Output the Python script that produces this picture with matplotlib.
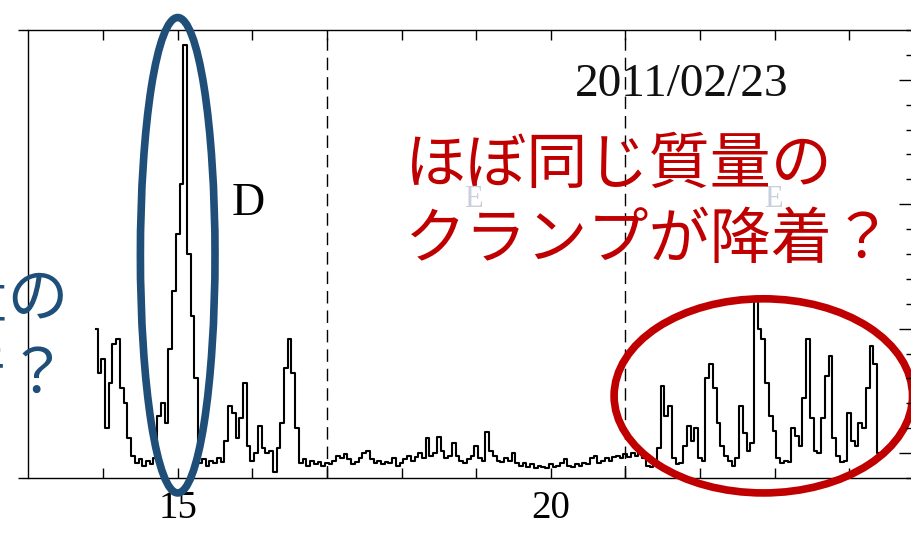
import numpy as np
import matplotlib
matplotlib.use("Agg")
import matplotlib.pyplot as plt
from matplotlib.patches import Ellipse
from matplotlib.ticker import FixedLocator, MultipleLocator, NullFormatter

# --- light curve (2011/02/23), sampled every 0.05 in time ---
t_start, t_step = 13.9, 0.05
flux = [
    6.0, 4.2, 4.8, 2.0, 3.8, 5.4, 5.6, 3.6, 3.0, 1.6,
    0.9, 0.6, 0.75, 0.5, 0.7, 0.55, 0.8, 2.5, 3.0, 2.2,
    5.2, 7.5, 9.8, 11.8, 17.4, 9.0, 6.5, 4.0, 0.6, 0.75,
    0.5, 0.7, 0.6, 0.8, 0.65, 1.5, 2.9, 2.6, 1.6, 2.4,
    3.8, 1.3, 0.7, 1.0, 2.1, 1.2, 1.0, 1.1, 0.25, 1.2,
    2.2, 4.4, 5.6, 4.2, 2.0, 0.6, 0.75, 0.5, 0.7, 0.55,
    0.65, 0.5, 0.6, 0.55, 0.7, 0.9, 0.8, 0.95, 0.75, 0.55,
    0.65, 0.8, 1.0, 1.1, 0.75, 0.6, 0.7, 0.55, 0.65, 0.6,
    0.8, 0.5, 0.6, 0.75, 0.9, 0.7, 0.85, 1.0, 0.8, 1.6,
    0.9, 1.0, 1.65, 1.1, 0.8, 0.9, 1.4, 0.9, 0.7, 0.6,
    0.75, 0.9, 1.3, 0.8, 0.7, 1.85, 1.1, 0.9, 0.7, 0.65,
    0.8, 0.7, 1.0, 0.6, 0.5, 0.6, 0.45, 0.55, 0.4, 0.5,
    0.45, 0.4, 0.55, 0.45, 0.5, 0.6, 0.75, 0.5, 0.45, 0.55,
    0.5, 0.6, 0.55, 0.8, 0.9, 0.6, 0.7, 0.8, 0.7, 0.85,
    0.9, 0.8, 0.95, 0.85, 1.0, 0.9, 1.05, 0.8, 0.5, 0.45,
    0.6, 1.2, 3.7, 2.5, 2.9, 0.8, 0.55, 0.6, 1.3, 2.1,
    1.5, 2.0, 0.8, 0.7, 4.0, 4.6, 3.6, 2.2, 1.3, 0.9,
    0.7, 0.5, 0.8, 2.9, 1.8, 1.1, 1.4, 7.2, 6.0, 5.6,
    3.8, 2.5, 1.9, 0.8, 0.6, 0.7, 0.65, 2.0, 1.7, 1.3,
    3.2, 5.6, 2.4, 1.1, 1.0, 2.4, 4.1, 4.9, 1.6, 0.9,
    0.65, 0.7, 2.6, 1.5, 1.3, 2.2, 2.0, 3.6, 5.3, 4.6,
    1.0,
]
t = t_start + t_step * np.arange(len(flux))

xticks = list(range(14, 25))
xlabels = {15: "15", 20: "20"}
dashed_at = [17, 21]
right_major = [1, 6, 11, 16]

W, H = 912, 541
fig = plt.figure(figsize=(W / 100, H / 100), dpi=100)
# axes run past the right edge of the canvas
ax = fig.add_axes([28.5 / W, 63 / H, 895.2 / W, 448 / H])
ax.set_xlim(13, 25)
ax.set_ylim(0, 18)

ax.plot(t, flux, color="black", lw=1.5, drawstyle="steps-mid", zorder=3)
for xd in dashed_at:
    ax.axvline(xd, color="black", lw=1.0, ls=(0, (9, 5)))

serif = "Liberation Serif"
ax.spines["right"].set_visible(False)
for s in ("left", "top", "bottom"):
    ax.spines[s].set_linewidth(1.0)
ax.set_xticks(xticks)
ax.set_xticklabels([xlabels.get(v, "") for v in xticks], fontfamily=serif, fontsize=28)
ax.tick_params(axis="x", which="both", direction="in", top=True, bottom=True,
               length=7, width=1.0, pad=9)
ax.set_yticks([0, 18])
ax.set_yticklabels([])
ax.tick_params(axis="y", direction="out", length=7, width=1.0, left=True, right=False)

# right-hand scale: inward ticks only
ax2 = ax.twinx()
ax2.set_ylim(0, 18)
for s in ax2.spines.values():
    s.set_visible(False)
ax2.yaxis.set_major_locator(FixedLocator(right_major))
ax2.yaxis.set_minor_locator(MultipleLocator(1))
ax2.yaxis.set_major_formatter(NullFormatter())
ax2.tick_params(axis="y", which="major", direction="in", length=18, width=1.0)
ax2.tick_params(axis="y", which="minor", direction="in", length=13, width=1.0)

ax.text(15.95, 11.0, "D", fontfamily=serif, fontsize=33, ha="center", va="center")
ax.text(21.75, 15.8, "2011/02/23", fontfamily=serif, fontsize=34, color="#111111",
        ha="center", va="center")
ax.text(18.96, 11.2, "E", fontfamily=serif, fontsize=22, color="#c9cfdb",
        ha="center", va="center", zorder=1)
ax.text(22.98, 11.2, "E", fontfamily=serif, fontsize=22, color="#c9cfdb",
        ha="center", va="center", zorder=1)

# highlighted regions
blue = "#1f4e79"
red = "#c00000"
ax.add_patch(Ellipse((15.0, 8.95), 1.0, 19.1, fill=False, edgecolor=blue, lw=5.5,
                     clip_on=False, zorder=4))
ax.add_patch(Ellipse((22.85, 3.3), 4.0, 7.8, fill=False, edgecolor=red, lw=5.5,
                     clip_on=False, zorder=4))

cjk = ["Noto Sans CJK JP", "DejaVu Sans"]
fig.text(405 / W, 1 - 166 / H, "ほぼ同じ質量の", family=cjk, fontsize=44, color=red,
         ha="left", va="center")
fig.text(405 / W, 1 - 241 / H, "クランプが降着？", family=cjk, fontsize=44, color=red,
         ha="left", va="center")
fig.text(69 / W, 1 - 300 / H, "大質量の", family=cjk, fontsize=44, color=blue,
         ha="right", va="center")
fig.text(69 / W, 1 - 376 / H, "クランプが降着？", family=cjk, fontsize=44, color=blue,
         ha="right", va="center")

fig.savefig("out.png", dpi=100)
